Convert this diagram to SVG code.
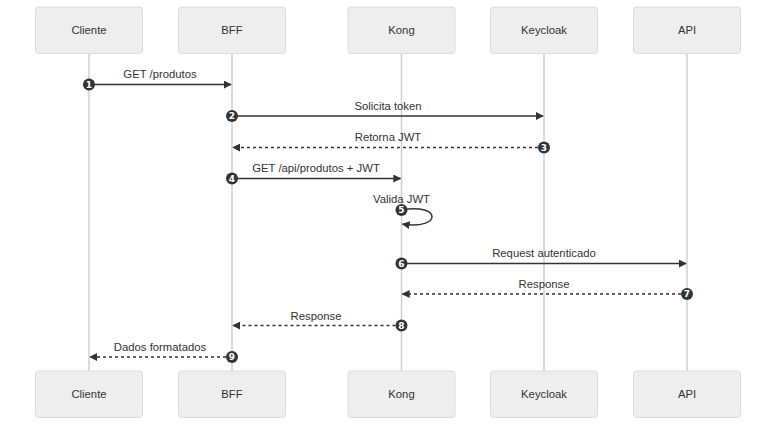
<svg xmlns="http://www.w3.org/2000/svg" width="784" height="431" viewBox="0 0 784 431">
<style>
.box{fill:#eeeeee;stroke:#dcdcdc;stroke-width:1}
.lbl{font-family:"Liberation Sans",Arial,sans-serif;font-size:11.3px;fill:#333;text-anchor:middle}
.life{stroke:#d0d0d0;stroke-width:1.5}
.msg{stroke:#333;stroke-width:1.5;fill:none}
.dash{stroke-dasharray:3,3}
.num{font-family:"DejaVu Sans",sans-serif;font-size:9px;font-weight:bold;fill:#fff;text-anchor:middle}
.dot{fill:#333}
</style>
<defs>
<marker id="ah" viewBox="0 0 10 10" refX="9" refY="5" markerWidth="8" markerHeight="8" markerUnits="userSpaceOnUse" orient="auto">
<path d="M0,0 L10,5 L0,10 z" fill="#333"/>
</marker>
</defs>
<rect width="784" height="431" fill="#fff"/>
<g id="lifelines">
<line class="life" x1="89" y1="53" x2="89" y2="371"/>
<line class="life" x1="232" y1="53" x2="232" y2="371"/>
<line class="life" x1="401.5" y1="53" x2="401.5" y2="371"/>
<line class="life" x1="544" y1="53" x2="544" y2="371"/>
<line class="life" x1="687" y1="53" x2="687" y2="371"/>
</g>
<g id="Cliente">
<rect class="box" x="35.5" y="7" width="107" height="46.5" rx="3"/>
<text class="lbl" x="89" y="34">Cliente</text>
<rect class="box" x="35.5" y="371" width="107" height="46.5" rx="3"/>
<text class="lbl" x="89" y="398">Cliente</text>
</g>
<g id="BFF">
<rect class="box" x="178.5" y="7" width="107" height="46.5" rx="3"/>
<text class="lbl" x="232" y="34">BFF</text>
<rect class="box" x="178.5" y="371" width="107" height="46.5" rx="3"/>
<text class="lbl" x="232" y="398">BFF</text>
</g>
<g id="Kong">
<rect class="box" x="348" y="7" width="107" height="46.5" rx="3"/>
<text class="lbl" x="401.5" y="34">Kong</text>
<rect class="box" x="348" y="371" width="107" height="46.5" rx="3"/>
<text class="lbl" x="401.5" y="398">Kong</text>
</g>
<g id="Keycloak">
<rect class="box" x="490.5" y="7" width="107" height="46.5" rx="3"/>
<text class="lbl" x="544" y="34">Keycloak</text>
<rect class="box" x="490.5" y="371" width="107" height="46.5" rx="3"/>
<text class="lbl" x="544" y="398">Keycloak</text>
</g>
<g id="API">
<rect class="box" x="633.5" y="7" width="107" height="46.5" rx="3"/>
<text class="lbl" x="687" y="34">API</text>
<rect class="box" x="633.5" y="371" width="107" height="46.5" rx="3"/>
<text class="lbl" x="687" y="398">API</text>
</g>
<g id="connectors">
<line class="msg" x1="89" y1="84.5" x2="231" y2="84.5" marker-end="url(#ah)"/>
<text class="lbl" x="160" y="78">GET /produtos</text>
<line class="msg" x1="232" y1="116" x2="543" y2="116" marker-end="url(#ah)"/>
<text class="lbl" x="388" y="109.5">Solicita token</text>
<line class="msg dash" x1="544" y1="147.5" x2="233" y2="147.5" marker-end="url(#ah)"/>
<text class="lbl" x="388" y="141">Retorna JWT</text>
<line class="msg" x1="232" y1="178.5" x2="400.5" y2="178.5" marker-end="url(#ah)"/>
<text class="lbl" x="316" y="172">GET /api/produtos + JWT</text>
<path class="msg" d="M401.5,210 C442,203 442,230 402.5,224" marker-end="url(#ah)"/>
<text class="lbl" x="401.5" y="203">Valida JWT</text>
<line class="msg" x1="401.5" y1="263.5" x2="686" y2="263.5" marker-end="url(#ah)"/>
<text class="lbl" x="544" y="257">Request autenticado</text>
<line class="msg dash" x1="687" y1="294" x2="402.5" y2="294" marker-end="url(#ah)"/>
<text class="lbl" x="544" y="288">Response</text>
<line class="msg dash" x1="401.5" y1="325.5" x2="233" y2="325.5" marker-end="url(#ah)"/>
<text class="lbl" x="316" y="319.5">Response</text>
<line class="msg dash" x1="232" y1="357" x2="90" y2="357" marker-end="url(#ah)"/>
<text class="lbl" x="160" y="351">Dados formatados</text>
</g>
<g id="seqnums">
<circle class="dot" cx="89" cy="84.5" r="6"/><text class="num" x="89" y="87.7">1</text>
<circle class="dot" cx="232" cy="116" r="6"/><text class="num" x="232" y="119.2">2</text>
<circle class="dot" cx="544" cy="147.5" r="6"/><text class="num" x="544" y="150.7">3</text>
<circle class="dot" cx="232" cy="178.5" r="6"/><text class="num" x="232" y="181.7">4</text>
<circle class="dot" cx="401.5" cy="210" r="6"/><text class="num" x="401.5" y="213.2">5</text>
<circle class="dot" cx="401.5" cy="263.5" r="6"/><text class="num" x="401.5" y="266.7">6</text>
<circle class="dot" cx="687" cy="294" r="6"/><text class="num" x="687" y="297.2">7</text>
<circle class="dot" cx="401.5" cy="325.5" r="6"/><text class="num" x="401.5" y="328.7">8</text>
<circle class="dot" cx="232" cy="357" r="6"/><text class="num" x="232" y="360.2">9</text>
</g>
</svg>
